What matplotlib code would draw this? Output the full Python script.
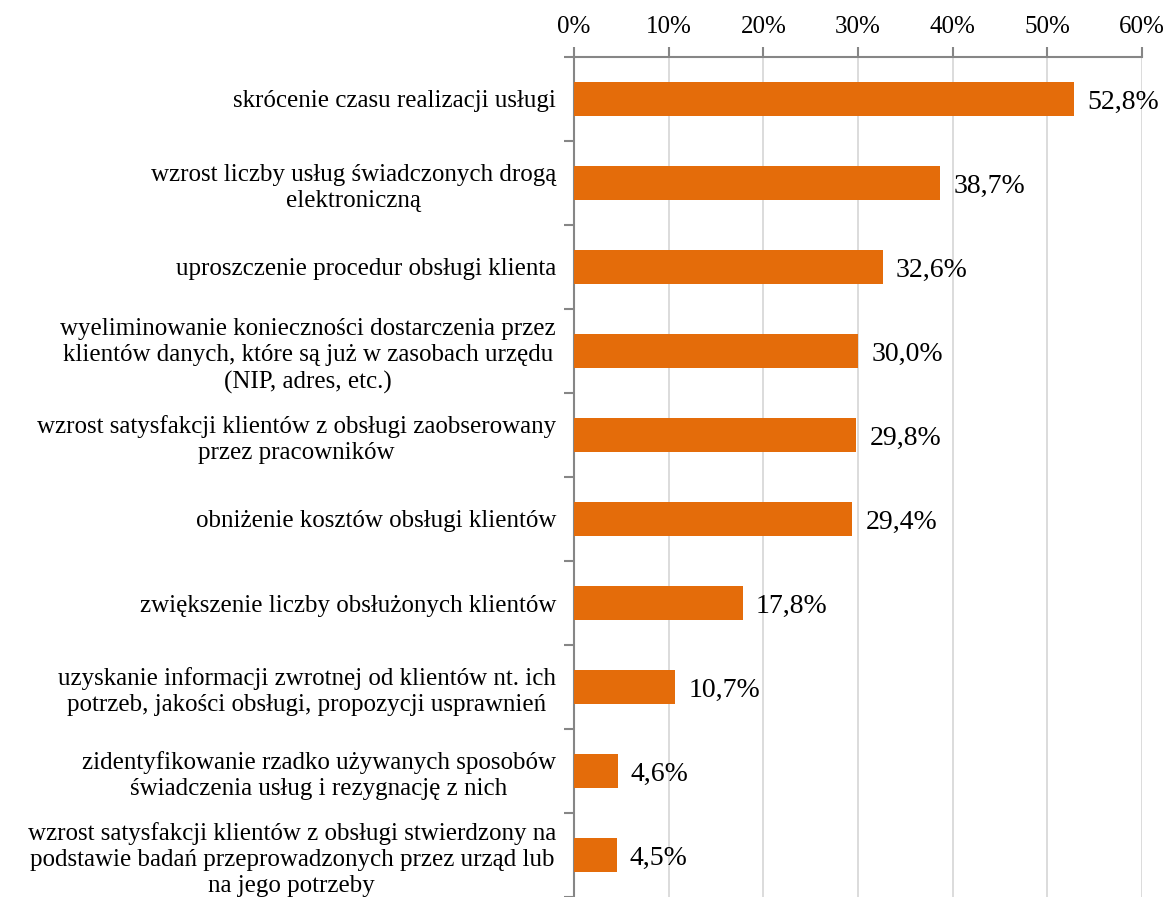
import numpy as np
import matplotlib.pyplot as plt
from matplotlib.ticker import FixedLocator

plt.rcParams['font.family'] = ['Liberation Serif', 'DejaVu Serif']

# kategorie i wartości (%)
categories = [
    'skrócenie czasu realizacji usługi',
    'wzrost liczby usług świadczonych drogą\nelektroniczną',
    'uproszczenie procedur obsługi klienta',
    'wyeliminowanie konieczności dostarczenia przez\nklientów danych, które są już w zasobach urzędu\n(NIP, adres, etc.)',
    'wzrost satysfakcji klientów z obsługi zaobserowany\nprzez pracowników',
    'obniżenie kosztów obsługi klientów',
    'zwiększenie liczby obsłużonych klientów',
    'uzyskanie informacji zwrotnej od klientów nt. ich\npotrzeb, jakości obsługi, propozycji usprawnień',
    'zidentyfikowanie rzadko używanych sposobów\nświadczenia usług i rezygnację z nich',
    'wzrost satysfakcji klientów z obsługi stwierdzony na\npodstawie badań przeprowadzonych przez urząd lub\nna jego potrzeby',
]
values = [52.8, 38.7, 32.6, 30.0, 29.8, 29.4, 17.8, 10.7, 4.6, 4.5]
x_ticks = [0, 10, 20, 30, 40, 50, 60]

orange = '#E46C0A'
axis_gray = '#868686'

fig = plt.figure(figsize=(11.73, 8.97), dpi=100)
ax = fig.add_axes([574 / 1173, 0.0, (1142 - 574) / 1173, 1 - 57 / 897])

y = np.arange(len(categories))
ax.barh(y, values, height=0.4, color=orange, zorder=3)

for yi, v in zip(y, values):
    ax.text(v + 1.4, yi + 0.04, f'{v:.1f}%'.replace('.', ','), va='center', ha='left',
            fontsize=20, color='black')

ax.set_xlim(0, 60)
ax.set_ylim(len(categories) - 0.5, -0.5)

# oś X na górze
ax.xaxis.tick_top()
ax.set_xticks(x_ticks)
ax.set_xticklabels([f'{t}%' for t in x_ticks], fontsize=18)
ax.tick_params(axis='x', direction='out', length=7, width=1.5, color=axis_gray, pad=7)
ax.grid(axis='x', color='#D9D9D9', linewidth=1.3, zorder=0)

# etykiety kategorii bez kresek, kreski na granicach
ax.set_yticks(y)
ax.set_yticklabels(categories, fontsize=18, multialignment='center', linespacing=1.25)
ax.tick_params(axis='y', length=0, pad=13)
ax.yaxis.set_minor_locator(FixedLocator(np.arange(-0.5, len(categories), 1)))
ax.tick_params(axis='y', which='minor', length=7, width=1.5, color=axis_gray)

for s in ['right', 'bottom']:
    ax.spines[s].set_visible(False)
for s in ['top', 'left']:
    ax.spines[s].set_color(axis_gray)
    ax.spines[s].set_linewidth(1.5)

fig.savefig('out.png', dpi=100)
